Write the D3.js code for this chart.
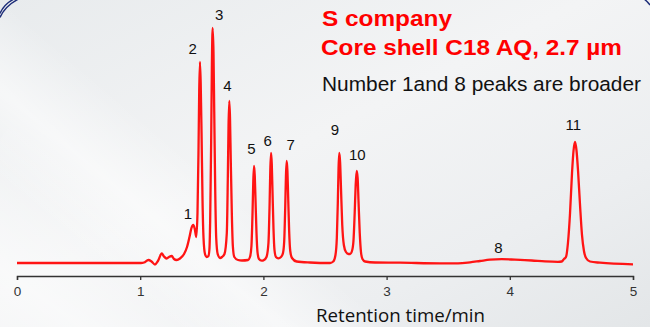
<!DOCTYPE html>
<html><head><meta charset="utf-8">
<script src="https://cdn.jsdelivr.net/npm/d3@7"></script>
<style>html,body{margin:0;padding:0;background:#eef0f1;overflow:hidden}</style>
</head><body>
<svg id="c" width="650" height="327"></svg>
<script>
// ---- data (retention time in min, detector signal in arbitrary units) ----
const traceTime = [0,0.674,1.006,1.031,1.066,1.092,1.120,1.144,1.175,1.193,1.215,1.234,1.256,1.274,1.295,1.323,1.356,1.380,1.400,1.416,1.431,1.443,1.455,1.465,1.473,1.479,1.485,1.491,1.498,1.506,1.514,1.526,1.540,1.554,1.562,1.568,1.576,1.582,1.588,1.595,1.601,1.609,1.617,1.629,1.648,1.664,1.684,1.703,1.711,1.717,1.723,1.729,1.735,1.744,1.752,1.764,1.794,1.826,1.875,1.891,1.903,1.912,1.918,1.924,1.930,1.936,1.944,1.952,1.964,1.986,2.005,2.025,2.041,2.050,2.056,2.062,2.068,2.074,2.082,2.090,2.102,2.121,2.143,2.159,2.169,2.177,2.183,2.189,2.195,2.201,2.209,2.218,2.232,2.270,2.378,2.541,2.567,2.585,2.596,2.604,2.610,2.616,2.623,2.630,2.640,2.653,2.670,2.691,2.703,2.719,2.731,2.741,2.749,2.757,2.765,2.772,2.782,2.792,2.804,2.825,2.906,3.109,3.433,3.580,3.677,3.758,3.839,3.934,4.042,4.178,4.286,4.391,4.421,4.440,4.456,4.472,4.489,4.505,4.517,4.529,4.541,4.554,4.570,4.586,4.602,4.619,4.651,4.732,5.000];
const traceSignal = [0,0,0,0.5,3,1.5,-1.5,2,9.5,6.5,4.5,6,7,4,3,4.5,9,16,26,35,38,34,26,50,110,172,201,180,130,62,25,9,6,7,14,43,121,199,235,210,151,72,25,9,5,6,9,30,83,137,162,145,104,48,17,6,3,2.5,3,6,17,51,82,97,87,63,30,11,4,2.3,3,6,20,57,93,110,99,71,34,13,6,4.7,6,10,22,55,87,102,92,66,32,12,5,1.5,0.5,0,1.5,8,25,60,95,110,100,74,38,18,11,9,9,12,22,50,78,92,85,62,30,11,4,1.5,0.5,0.3,-0.3,-0.3,0.7,2,3.3,3.8,3.3,2.5,1.6,1.2,1.5,4,6,20,50,90,112,121,113,92,58,28,12,5,1.5,0.3,-1.3];

const peakNames  = ["1","2","3","4","5","6","7","8","9","10","11"];
const peakLabelTime   = [1.388,1.426,1.642,1.707,1.902,2.035,2.222,3.907,2.581,2.762,4.515];
const peakLabelSignal = [49,214,248,177,114,122,118,15.3,133,108.7,138];

const xTicks = [0,1,2,3,4,5];
const xTitle = "Retention time/min";
const titleLines = ["S company","Core shell C18 AQ, 2.7 µm"];
const note = "Number 1and 8 peaks are broader";

// ---- drawing ----
const svg = d3.select("#c");
const W = 650, H = 327;

// background
const defs = svg.append("defs");
const g1 = defs.append("linearGradient").attr("id","bg").attr("x1","0").attr("y1","0").attr("x2","1").attr("y2","1");
g1.append("stop").attr("offset","0").attr("stop-color","#e8ebed");
g1.append("stop").attr("offset","0.45").attr("stop-color","#f3f4f5");
g1.append("stop").attr("offset","0.75").attr("stop-color","#eceef0");
g1.append("stop").attr("offset","1").attr("stop-color","#e3e6e8");
svg.append("rect").attr("width",W).attr("height",H).attr("fill","url(#bg)");
const g2 = defs.append("linearGradient").attr("id","band").attr("x1","0").attr("y1","0").attr("x2","1").attr("y2","0");
g2.append("stop").attr("offset","0").attr("stop-color","#ffffff").attr("stop-opacity",0);
g2.append("stop").attr("offset","0.5").attr("stop-color","#ffffff").attr("stop-opacity",0.55);
g2.append("stop").attr("offset","1").attr("stop-color","#ffffff").attr("stop-opacity",0);
svg.append("rect").attr("x",-200).attr("y",-40).attr("width",260).attr("height",600)
  .attr("fill","url(#band)").attr("transform","rotate(-55 0 0) translate(-150,120)");
svg.append("rect").attr("x",100).attr("y",-300).attr("width",140).attr("height",900)
  .attr("fill","url(#band)").attr("transform","rotate(-50 325 160)");

// decorative frame corners
svg.append("path").attr("d","M0,13.5 Q4,4 14,-1").attr("fill","none").attr("stroke","#1c2c78").attr("stroke-width",1.4);
svg.append("path").attr("d","M0,17.5 Q5,6 18.5,-1").attr("fill","none").attr("stroke","#1c2c78").attr("stroke-width",1.4);
svg.append("path").attr("d","M644,-1 Q647,1 650,5").attr("fill","none").attr("stroke","#1c2c78").attr("stroke-width",1.4);

const x = d3.scaleLinear().domain([0,5]).range([17,633]);
const y = d3.scaleLinear().domain([0,235]).range([263,28]);

// axis
const ax = svg.append("g").attr("transform","translate(0,276)")
  .call(d3.axisBottom(x).tickValues(xTicks).tickFormat(d3.format("d")).tickSize(4).tickPadding(6));
ax.select(".domain").attr("stroke","#333").attr("stroke-width",1.4);
ax.selectAll(".tick line").attr("stroke","#333").attr("stroke-width",1.3);
ax.selectAll(".tick text").attr("font-family","Liberation Sans, Arial, sans-serif").attr("font-size",13.5).attr("fill","#333");

// trace
const pts = traceTime.map((t,i)=>[t,traceSignal[i]]);
svg.append("path").datum(pts)
  .attr("d", d3.line().x(d=>x(d[0])).y(d=>y(d[1])).curve(d3.curveMonotoneX))
  .attr("fill","none").attr("stroke","#ff1414").attr("stroke-width",2.3)
  .attr("stroke-linejoin","round");

// peak labels
svg.append("g").selectAll("text").data(peakNames).join("text")
  .attr("x",(d,i)=>x(peakLabelTime[i])).attr("y",(d,i)=>y(peakLabelSignal[i]))
  .attr("dy","0.36em").attr("text-anchor","middle")
  .attr("font-family","Liberation Sans, Arial, sans-serif").attr("font-size",15).attr("fill","#111")
  .text(d=>d);

// titles
const tl = [[322,25.7,130],[321,54.5,301]];
titleLines.forEach((s,i)=>{
  svg.append("text").attr("x",tl[i][0]).attr("y",tl[i][1]).attr("textLength",tl[i][2]).attr("lengthAdjust","spacingAndGlyphs")
    .attr("font-family","Liberation Sans, Arial, sans-serif").attr("font-weight","bold").attr("font-size",22.5)
    .attr("fill","#ff0000").text(s);
});
svg.append("text").attr("x",322).attr("y",91).attr("textLength",319).attr("lengthAdjust","spacingAndGlyphs")
  .attr("font-family","Liberation Sans, Arial, sans-serif").attr("font-size",20.5).attr("fill","#111").text(note);

svg.append("text").attr("x",400.5).attr("y",321.7).attr("text-anchor","middle").attr("textLength",169).attr("lengthAdjust","spacingAndGlyphs")
  .attr("font-family","Open Sans, sans-serif").attr("font-size",18).attr("fill","#111").text(xTitle);
</script>
</body></html>
